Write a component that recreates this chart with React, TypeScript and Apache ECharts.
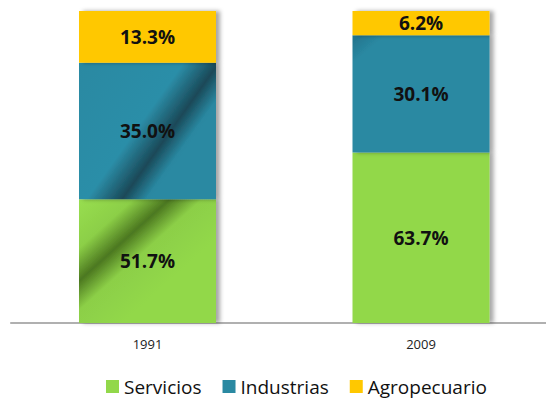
import React, { useEffect, useRef } from "react";
import * as echarts from "echarts";

const categories = ["1991", "2009"];
const servicios = [51.7, 63.7];
const industrias = [35.0, 30.1];
const agropecuario = [13.3, 6.2];
const seriesNames = ["Servicios", "Industrias", "Agropecuario"];

const GREEN = "#92D84A";
const BLUE = "#2A89A2";
const YELLOW = "#FFC800";

export default function App() {
  const ref = useRef<HTMLDivElement>(null);
  useEffect(() => {
    if (!ref.current) return;
    const chart = echarts.init(ref.current, null, { renderer: "svg" });
    const greenGrad = new echarts.graphic.LinearGradient(0, 0, 0.66, 0.66, [
      { offset: 0, color: "#98de50" },
      { offset: 0.3, color: "#8ccf47" },
      { offset: 0.5, color: "#4c7820" },
      { offset: 0.68, color: "#8ccf47" },
      { offset: 1, color: GREEN },
    ]);
    const blueGrad = new echarts.graphic.LinearGradient(0, 0, 0.82, 0.58, [
      { offset: 0, color: BLUE },
      { offset: 0.62, color: "#2c8ea8" },
      { offset: 0.83, color: "#1a4958" },
      { offset: 0.97, color: "#2987a0" },
      { offset: 1, color: BLUE },
    ]);
    const blueCorner = new echarts.graphic.LinearGradient(0, 0, 0.35, 0.35, [
      { offset: 0, color: "#22718a" },
      { offset: 0.35, color: "#2A89A2" },
      { offset: 1, color: BLUE },
    ]);
    const shadow = {
      shadowColor: "rgba(0,0,0,0.35)",
      shadowBlur: 4,
      shadowOffsetX: 4,
      shadowOffsetY: 0,
    };
    const label = {
      show: true,
      position: "inside" as const,
      color: "#111",
      fontFamily: "Open Sans",
      fontWeight: "bold" as const,
      fontSize: 19,
      formatter: (p: any) => `${Number(p.value).toFixed(1)}%`,
    };
    const mk = (
      name: string,
      vals: number[],
      color: string,
      special: (i: number) => any
    ) => ({
      name,
      type: "bar",
      stack: "total",
      barWidth: 137,
      clip: true,
      itemStyle: { color, ...shadow },
      label,
      data: vals.map((v, i) => {
        const s = special(i);
        return s ? { value: v, itemStyle: { color: s } } : v;
      }),
    });
    chart.setOption({
      animation: false,
      grid: { left: 10.75, width: 547, top: 11, bottom: 77 },
      legend: {
        left: 101,
        top: 372,
        icon: "rect",
        itemWidth: 13,
        itemHeight: 13,
        itemGap: 21,
        textStyle: { fontFamily: "Open Sans", fontSize: 19, color: "#111" },
        data: seriesNames.map((n, i) => ({
          name: n,
          itemStyle: { color: [GREEN, BLUE, YELLOW][i], shadowBlur: 0, shadowOffsetX: 0 },
        })),
      },
      xAxis: {
        type: "category",
        data: categories,
        axisLine: { lineStyle: { color: "#969696", width: 1.5 } },
        axisTick: { show: false },
        axisLabel: {
          color: "#222",
          fontFamily: "Open Sans",
          fontSize: 13,
          margin: 14,
        },
      },
      yAxis: { type: "value", min: 20, max: 100, show: false, splitLine: { show: false } },
      series: [
        mk(seriesNames[0], servicios, GREEN, (i) => (i === 0 ? greenGrad : null)),
        mk(seriesNames[1], industrias, BLUE, (i) => (i === 0 ? blueGrad : blueCorner)),
        mk(seriesNames[2], agropecuario, YELLOW, () => null),
      ],
    });
    return () => chart.dispose();
  }, []);
  return (
    <div style={{ position: "absolute", left: 0, top: 0, width: 546, height: 400, overflow: "hidden" }}>
      <div ref={ref} style={{ width: 560, height: 400 }} />
    </div>
  );
}
